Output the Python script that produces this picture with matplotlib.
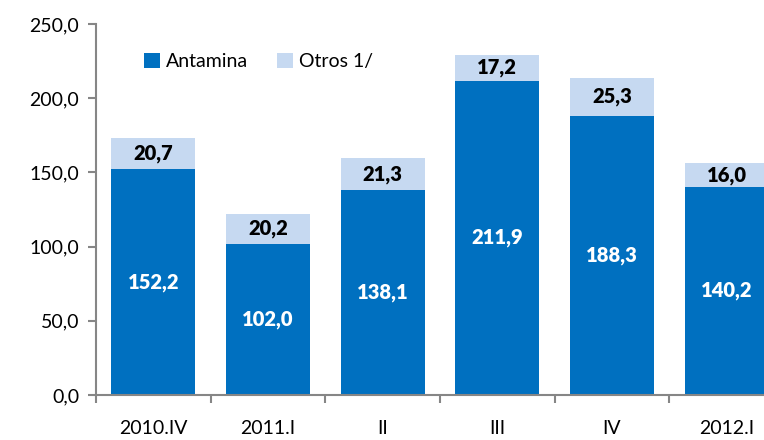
import numpy as np
import matplotlib.pyplot as plt
from matplotlib.ticker import FixedLocator, FuncFormatter

plt.rcParams['font.family'] = ['Lato', 'DejaVu Sans']

periods = ['2010.IV', '2011.I', 'II', 'III', 'IV', '2012.I']
antamina = [152.2, 102.0, 138.1, 211.9, 188.3, 140.2]
otros = [20.7, 20.2, 21.3, 17.2, 25.3, 16.0]

dark = '#0070C0'
light = '#C6D9F1'
grey = '#868686'


def fmt(v):
    return ('%.1f' % v).replace('.', ',')


fig = plt.figure(figsize=(7.64, 4.4), dpi=100)
ax = fig.add_axes([96 / 764, 1 - 395 / 440, 688 / 764, 371 / 440])

x = np.arange(len(periods))
w = 0.73
ax.bar(x, antamina, w, color=dark, label='Antamina')
ax.bar(x, otros, w, bottom=antamina, color=light, label='Otros 1/')

# labels inside the bars
for xi, a, o in zip(x, antamina, otros):
    ax.text(xi, a / 2, fmt(a), ha='center', va='center', color='white',
            fontsize=14.5, fontweight='heavy')
    ax.text(xi, a + o / 2, fmt(o), ha='center', va='center', color='black',
            fontsize=14.5, fontweight='heavy')

ax.set_xlim(-0.5, len(periods) - 0.5)
ax.set_ylim(0, 250)
ax.set_yticks(np.arange(0, 251, 50))
ax.yaxis.set_major_formatter(FuncFormatter(lambda v, p: fmt(v)))

ax.set_xticks(x)
ax.set_xticklabels(periods)
ax.xaxis.set_minor_locator(FixedLocator(np.arange(-0.5, len(periods), 1.0)))
ax.tick_params(axis='x', which='major', length=0, pad=18, labelsize=14)
ax.tick_params(axis='x', which='minor', length=6, width=1.5, color=grey, direction='out')
ax.tick_params(axis='y', length=6, width=1.5, color=grey, labelsize=14, pad=6)

for s in ['top', 'right']:
    ax.spines[s].set_visible(False)
for s in ['left', 'bottom']:
    ax.spines[s].set_color(grey)
    ax.spines[s].set_linewidth(1.5)

ax.legend(loc='upper left', bbox_to_anchor=(0.045, 0.97), ncol=2, frameon=False,
          fontsize=14, handlelength=0.8, handleheight=0.8, handletextpad=0.3,
          columnspacing=1.5)

fig.savefig('out.png', dpi=100)
